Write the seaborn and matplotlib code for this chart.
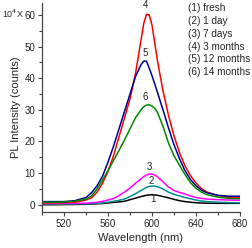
import numpy as np
import pandas as pd
import seaborn as sns
import matplotlib.pyplot as plt
from matplotlib.ticker import MultipleLocator

# wavelength grid (nm) shared by every spectrum
wavelength = [500, 510, 520, 530, 540, 545, 550, 555, 560, 565, 570, 575, 580, 585, 590,
              592.5, 595, 597.5, 600, 602.5, 605, 610, 615, 620, 625, 630, 635, 640, 645,
              650, 660, 670, 680]

# PL intensity in units of 10^4 counts
fresh = [0.0, 0.0, 0.05, 0.1, 0.15, 0.2, 0.3, 0.4, 0.55, 0.75, 0.9, 1.1, 1.6, 2.1, 2.6,
         2.8, 3.0, 3.1, 3.2, 3.1, 3.0, 2.6, 2.2, 1.7, 1.3, 1.0, 0.8, 0.65, 0.55,
         0.5, 0.45, 0.45, 0.45]
day1 = [0.2, 0.2, 0.2, 0.25, 0.3, 0.35, 0.45, 0.6, 0.8, 1.1, 1.4, 1.8, 2.6, 3.5, 4.5,
        5.0, 5.5, 5.8, 5.9, 5.9, 5.7, 5.0, 4.0, 3.3, 2.8, 2.3, 1.9, 1.5, 1.2,
        1.0, 0.8, 0.7, 0.6]
days7 = [0.4, 0.4, 0.4, 0.45, 0.5, 0.6, 0.8, 1.1, 1.5, 2.0, 2.9, 4.0, 5.3, 6.8, 8.2,
         8.9, 9.4, 9.7, 9.7, 9.4, 8.8, 7.3, 5.6, 4.5, 3.9, 3.4, 2.8, 2.3, 2.0,
         1.8, 1.6, 1.5, 1.4]
months3 = [0.6, 0.6, 0.7, 0.8, 1.5, 2.2, 4.0, 6.8, 10.5, 15.5, 21.5, 27.5, 33.5, 41.5, 52.0,
           57.3, 60.2, 60.0, 56.8, 51.2, 45.5, 36.0, 28.3, 21.8, 16.5, 12.3, 9.2, 6.9, 5.1,
           4.0, 2.9, 2.4, 2.2]
months12 = [1.0, 1.0, 1.0, 1.3, 2.3, 3.8, 6.0, 9.0, 13.5, 18.5, 24.0, 29.5, 35.0, 40.5, 44.3,
            45.4, 45.4, 43.2, 40.8, 38.2, 35.5, 30.0, 24.3, 19.0, 14.6, 10.8, 8.0, 6.0, 4.6,
            3.8, 3.0, 2.7, 2.7]
months14 = [0.8, 0.8, 0.9, 1.1, 1.8, 2.8, 5.0, 7.8, 10.8, 14.0, 17.2, 20.5, 24.0, 27.5, 30.0,
            31.0, 31.5, 31.6, 31.2, 30.5, 29.2, 24.8, 19.5, 15.5, 12.5, 9.6, 7.0, 5.2, 4.0,
            3.2, 2.4, 2.0, 1.9]

series_names = ["1", "2", "3", "4", "5", "6"]
series_values = [fresh, day1, days7, months3, months12, months14]
legend_lines = ["(1) fresh", "(2) 1 day", "(3) 7 days", "(4) 3 months", "(5) 12 months", "(6) 14 months"]
colors = ["black", "#009090", "#ff00ff", "#ff0000", "#000090", "#008800"]

# peak labels (wavelength, intensity)
peak_labels = {"4": (593.8, 63.0), "5": (594.3, 47.9), "6": (594.3, 34.2),
               "3": (597.3, 12.0), "2": (599.1, 7.5), "1": (600.6, 1.8)}

rows = []
for name, vals in zip(series_names, series_values):
    for w, v in zip(wavelength, vals):
        rows.append({"wavelength": w, "intensity": v, "sample": name})
df = pd.DataFrame(rows)

sns.set_style("ticks")
plt.rcParams["font.family"] = ["Liberation Sans", "DejaVu Sans"]

fig = plt.figure(figsize=(2.52, 2.48), dpi=100)
ax = fig.add_axes([0.167, 0.145, 0.785, 0.842])

sns.lineplot(data=df, x="wavelength", y="intensity", hue="sample",
             hue_order=series_names, palette=colors, linewidth=1.1,
             legend=False, ax=ax)

for lab, (x, y) in peak_labels.items():
    ax.text(x, y, lab, fontsize=7, ha="center", va="center")

for i, line in enumerate(legend_lines):
    fig.text(0.748, 0.967 - i * 0.0515, line, fontsize=7.2, ha="left", va="center")

fig.text(0.094, 0.946, "10$^4$X", fontsize=6.4, ha="right", va="center")

ax.set_xlim(500, 680)
ax.set_ylim(-2.3, 63.7)
ax.xaxis.set_major_locator(MultipleLocator(40))
ax.xaxis.set_minor_locator(MultipleLocator(20))
ax.yaxis.set_major_locator(MultipleLocator(10))
ax.yaxis.set_minor_locator(MultipleLocator(5))
ax.set_xticks([520, 560, 600, 640, 680])
ax.tick_params(which="major", length=3, width=0.8, labelsize=7, pad=2, color="#444444")
ax.tick_params(which="minor", length=2, width=0.8, color="#444444")

ax.set_xlabel("Wavelength (nm)", fontsize=8, labelpad=3)
ax.set_ylabel("PL Intensity (counts)", fontsize=8, labelpad=2)

sns.despine(ax=ax)
for side in ["left", "bottom"]:
    ax.spines[side].set_color("#444444")
    ax.spines[side].set_linewidth(0.9)

fig.savefig("out.png", dpi=100)
